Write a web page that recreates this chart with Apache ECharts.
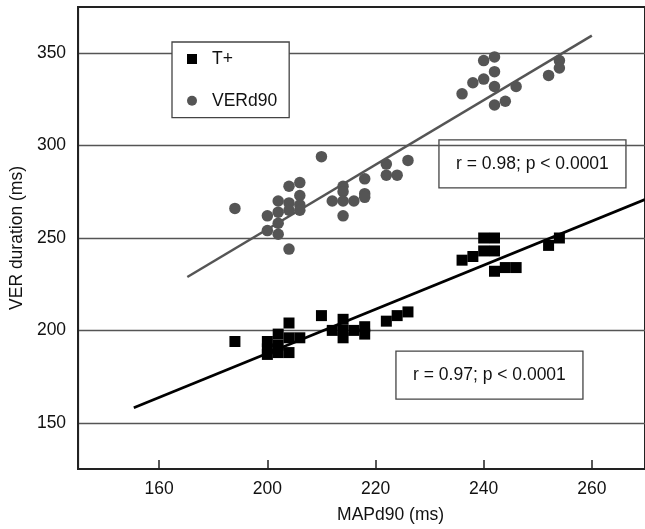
<!DOCTYPE html>
<html>
<head>
<meta charset="utf-8">
<script src="https://cdn.jsdelivr.net/npm/echarts@6/dist/echarts.min.js"></script>
<style>
  html, body { margin: 0; padding: 0; background: #fff; }
  #chart { width: 645px; height: 529px; }
</style>
</head>
<body>
<div id="chart"></div>
<script>
// T+ measurements (MAPd90 vs T+ duration, ms)
const tPlusX = [194, 200, 200, 200, 202, 202, 202, 204, 204, 204, 206, 210, 212, 214, 214, 214, 216, 218, 218, 222, 224, 226,
                236, 238, 240, 240, 242, 242, 242, 244, 246, 252, 254];
const tPlusY = [194, 194, 190, 187, 198, 192, 188, 204, 196, 188, 196, 208, 200, 206, 200, 196, 200, 202, 198, 205, 208, 210,
                238, 240, 250, 243, 250, 243, 232, 234, 234, 246, 250];

// VERd90 measurements (MAPd90 vs VER duration, ms)
const verX = [194, 200, 200, 202, 202, 202, 202, 204, 204, 204, 204, 206, 206, 206, 206, 210,
              212, 214, 214, 214, 214, 216, 218, 218, 218, 222, 222, 224, 226,
              236, 238, 240, 240, 242, 242, 242, 242, 244, 246, 252, 254, 254];
const verY = [266, 262, 254, 270, 264, 258, 252, 278, 269, 265, 244, 280, 273, 268, 265, 294,
              270, 278, 275, 270, 262, 270, 282, 274, 272, 290, 284, 284, 292,
              328, 334, 346, 336, 348, 340, 332, 322, 324, 332, 338, 346, 342];

// Regression line end points [x, y]
const tPlusFit = [[175.3, 158.2], [269.8, 270.8]];
const verFit = [[185.2, 228.9], [260.0, 359.5]];

// Axis ticks and their printed labels
const xTickValues = [180, 200, 220, 240, 260];
const xTickLabels = ['160', '200', '220', '240', '260'];
const yTickValues = [150, 200, 250, 300, 350];

// Correlation annotations
const statTexts = ['r = 0.98; p < 0.0001', 'r = 0.97; p < 0.0001'];

const FONT = 'Liberation Sans, Arial, sans-serif';
const pairs = (xs, ys) => xs.map((x, i) => [x, ys[i]]);

const chart = echarts.init(document.getElementById('chart'), null, { renderer: 'canvas' });

function statBox(x, y, text) {
  return {
    type: 'group', left: x, top: y, z: 100,
    children: [
      { type: 'rect', shape: { x: 0, y: 0, width: 187, height: 48 },
        style: { fill: '#fff', stroke: '#444', lineWidth: 1.3 } },
      { type: 'text', x: 93.5, y: 24,
        style: { text: text, font: '17.5px ' + FONT, fill: '#111', align: 'center', verticalAlign: 'middle' } }
    ]
  };
}

chart.setOption({
  animation: false,
  backgroundColor: '#fff',
  grid: {
    left: 76, right: -1, top: 7, bottom: 58.3,
    show: true, borderColor: '#222', borderWidth: 2, backgroundColor: 'transparent'
  },
  legend: {
    orient: 'vertical',
    left: 172, top: 42,
    padding: [7, 12, 7, 15],
    itemGap: 21.7,
    itemWidth: 10, itemHeight: 10,
    borderColor: '#444', borderWidth: 1.3,
    backgroundColor: '#fff',
    textStyle: { fontFamily: FONT, fontSize: 17.5, color: '#111', lineHeight: 20, padding: [0, 0, 0, 10] },
    data: [
      { name: 'T+', icon: 'rect' },
      { name: 'VERd90', icon: 'circle' }
    ]
  },
  xAxis: {
    type: 'value',
    min: 165, max: 269.83,
    name: 'MAPd90 (ms)',
    nameLocation: 'middle',
    nameGap: 37,
    nameTextStyle: { fontFamily: FONT, fontSize: 17.5, color: '#111', padding: [0, 0, 0, 58] },
    axisLine: { show: true, onZero: false, lineStyle: { color: '#222', width: 2 } },
    axisTick: { show: true, inside: true, length: 9, customValues: xTickValues, lineStyle: { color: '#222', width: 1.5 } },
    axisLabel: {
      customValues: xTickValues,
      margin: 11,
      fontFamily: FONT, fontSize: 17.5, color: '#111',
      formatter: v => xTickLabels[xTickValues.indexOf(v)]
    },
    splitLine: { show: false }
  },
  yAxis: {
    type: 'value',
    min: 125, max: 375,
    name: 'VER duration (ms)',
    nameLocation: 'middle',
    nameGap: 49,
    nameTextStyle: { fontFamily: FONT, fontSize: 17.5, color: '#111' },
    axisLine: { show: true, onZero: false, lineStyle: { color: '#222', width: 2 } },
    axisTick: { show: false, customValues: yTickValues },
    axisLabel: {
      customValues: yTickValues,
      margin: 12,
      fontFamily: FONT, fontSize: 17.5, color: '#111'
    },
    splitLine: { show: true, lineStyle: { color: '#555', width: 1.4 } }
  },
  series: [
    {
      name: 'VERd90 fit', type: 'line', data: verFit, showSymbol: false, silent: true,
      lineStyle: { color: '#555', width: 2.5 }, z: 3
    },
    {
      name: 'T+ fit', type: 'line', data: tPlusFit, showSymbol: false, silent: true,
      lineStyle: { color: '#000', width: 2.7 }, z: 3
    },
    {
      name: 'T+', type: 'scatter', data: pairs(tPlusX, tPlusY),
      symbol: 'rect', symbolSize: 11,
      itemStyle: { color: '#000', opacity: 1 }, z: 4
    },
    {
      name: 'VERd90', type: 'scatter', data: pairs(verX, verY),
      symbol: 'circle', symbolSize: 11.5,
      itemStyle: { color: '#555', opacity: 1 }, z: 4
    }
  ],
  graphic: [
    statBox(438.3, 139.3, statTexts[0]),
    statBox(395.3, 350.5, statTexts[1])
  ]
});
</script>
</body>
</html>
